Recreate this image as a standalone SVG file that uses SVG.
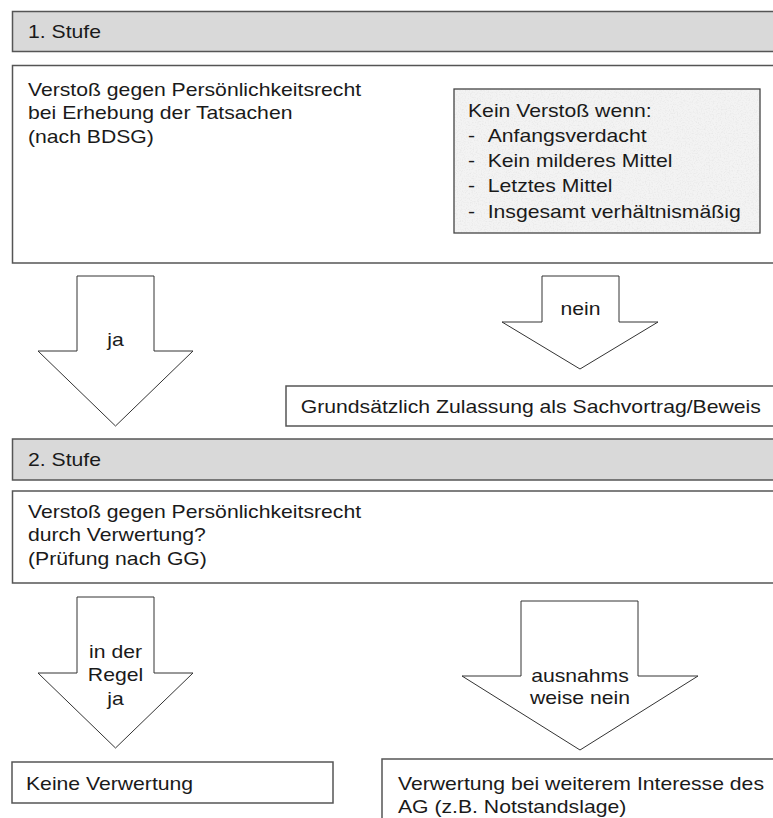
<svg xmlns="http://www.w3.org/2000/svg" width="773" height="818" viewBox="0 0 773 818">
<defs>
<style>
.t{font-family:"Liberation Sans",Arial,sans-serif;font-size:19px;fill:#1a1a1a}
.m{text-anchor:middle}
.hdr{fill:#d9d9d9;stroke:#555;stroke-width:1.5}
.box{fill:#fff;stroke:#555;stroke-width:1.5}
.arr{fill:#fff;stroke:#333;stroke-width:1}
</style>
<filter id="grain" x="0" y="0" width="1" height="1">
<feTurbulence type="fractalNoise" baseFrequency="0.75" numOctaves="2" seed="7"/>
<feColorMatrix type="matrix" values="0 0 0 0 0.7 0 0 0 0 0.7 0 0 0 0 0.7 0 0 0 1.1 -0.5"/>
<feComposite in2="SourceGraphic" operator="in"/>
</filter>
</defs>
<rect width="773" height="818" fill="#fff"/>

<g id="stufe1">
<rect class="hdr" x="12.5" y="11.5" width="780" height="40"/>
<text class="t" transform="translate(28,38.3) scale(1.115,1)">1. Stufe</text>
</g>

<g id="box1">
<rect class="box" x="12.5" y="65.5" width="780" height="197.5"/>
<text class="t" transform="translate(28,96) scale(1.115,1)"><tspan x="0" y="0">Verstoß gegen Persönlichkeitsrecht</tspan><tspan x="0" y="23.5">bei Erhebung der Tatsachen</tspan><tspan x="0" y="47">(nach BDSG)</tspan></text>
</g>

<g id="keinVerstoss">
<rect x="454" y="89" width="306" height="144" fill="#f3f3f3"/>
<rect x="454" y="89" width="306" height="144" fill="#000" filter="url(#grain)"/>
<rect x="454" y="89" width="306" height="144" fill="none" stroke="#444" stroke-width="1.3"/>
<text class="t" transform="translate(468,116.6) scale(1.115,1)">Kein Verstoß wenn:</text>
<text class="t" transform="translate(468,141.8) scale(1.115,1)">-</text>
<text class="t" transform="translate(487.7,141.8) scale(1.115,1)">Anfangsverdacht</text>
<text class="t" transform="translate(468,167) scale(1.115,1)">-</text>
<text class="t" transform="translate(487.7,167) scale(1.115,1)">Kein milderes Mittel</text>
<text class="t" transform="translate(468,192.3) scale(1.115,1)">-</text>
<text class="t" transform="translate(487.7,192.3) scale(1.115,1)">Letztes Mittel</text>
<text class="t" transform="translate(468,217.6) scale(1.115,1)">-</text>
<text class="t" transform="translate(487.7,217.6) scale(1.115,1)">Insgesamt verhältnismäßig</text>
</g>

<g id="connectors">
<g id="arrowJa1">
<polygon class="arr" points="77,276 154,276 154,351 193,351 115.5,426 38,351 77,351"/>
<text class="t m" transform="translate(115.5,346) scale(1.115,1)">ja</text>
</g>
<g id="arrowNein1">
<polygon class="arr" points="542,276 619,276 619,322 658,322 580,369 502,322 542,322"/>
<text class="t m" transform="translate(580.5,315) scale(1.115,1)">nein</text>
</g>
<g id="arrowJa2">
<polygon class="arr" points="77,597 154,597 154,673 193,673 115.5,748 38,673 77,673"/>
<text class="t m" transform="translate(115.5,658) scale(1.115,1)"><tspan x="0" y="0">in der</tspan><tspan x="0" y="23.5">Regel</tspan><tspan x="0" y="47">ja</tspan></text>
</g>
<g id="arrowNein2">
<polygon class="arr" points="521,601 638,601 638,676 698,676 580,750 462,676 521,676"/>
<text class="t m" transform="translate(580,681.5) scale(1.115,1)"><tspan x="0" y="0">ausnahms</tspan><tspan x="0" y="22.5">weise nein</tspan></text>
</g>
</g>

<g id="zulassung">
<rect class="box" x="286" y="386" width="520" height="40"/>
<text class="t" transform="translate(300.7,413.3) scale(1.115,1)">Grundsätzlich Zulassung als Sachvortrag/Beweis</text>
</g>

<g id="stufe2">
<rect class="hdr" x="12.5" y="439" width="780" height="41"/>
<text class="t" transform="translate(28,466) scale(1.115,1)">2. Stufe</text>
</g>

<g id="box2">
<rect class="box" x="12.5" y="491" width="780" height="92"/>
<text class="t" transform="translate(28,518) scale(1.115,1)"><tspan x="0" y="0">Verstoß gegen Persönlichkeitsrecht</tspan><tspan x="0" y="23.5">durch Verwertung?</tspan><tspan x="0" y="47">(Prüfung nach GG)</tspan></text>
</g>

<g id="keineVerwertung">
<rect class="box" x="12" y="762" width="321" height="41"/>
<text class="t" transform="translate(26,790) scale(1.115,1)">Keine Verwertung</text>
</g>

<g id="verwertung">
<rect class="box" x="382" y="759" width="420" height="80"/>
<text class="t" transform="translate(398,789.5) scale(1.115,1)"><tspan x="0" y="0">Verwertung bei weiterem Interesse des</tspan><tspan x="0" y="24">AG (z.B. Notstandslage)</tspan></text>
</g>
</svg>
